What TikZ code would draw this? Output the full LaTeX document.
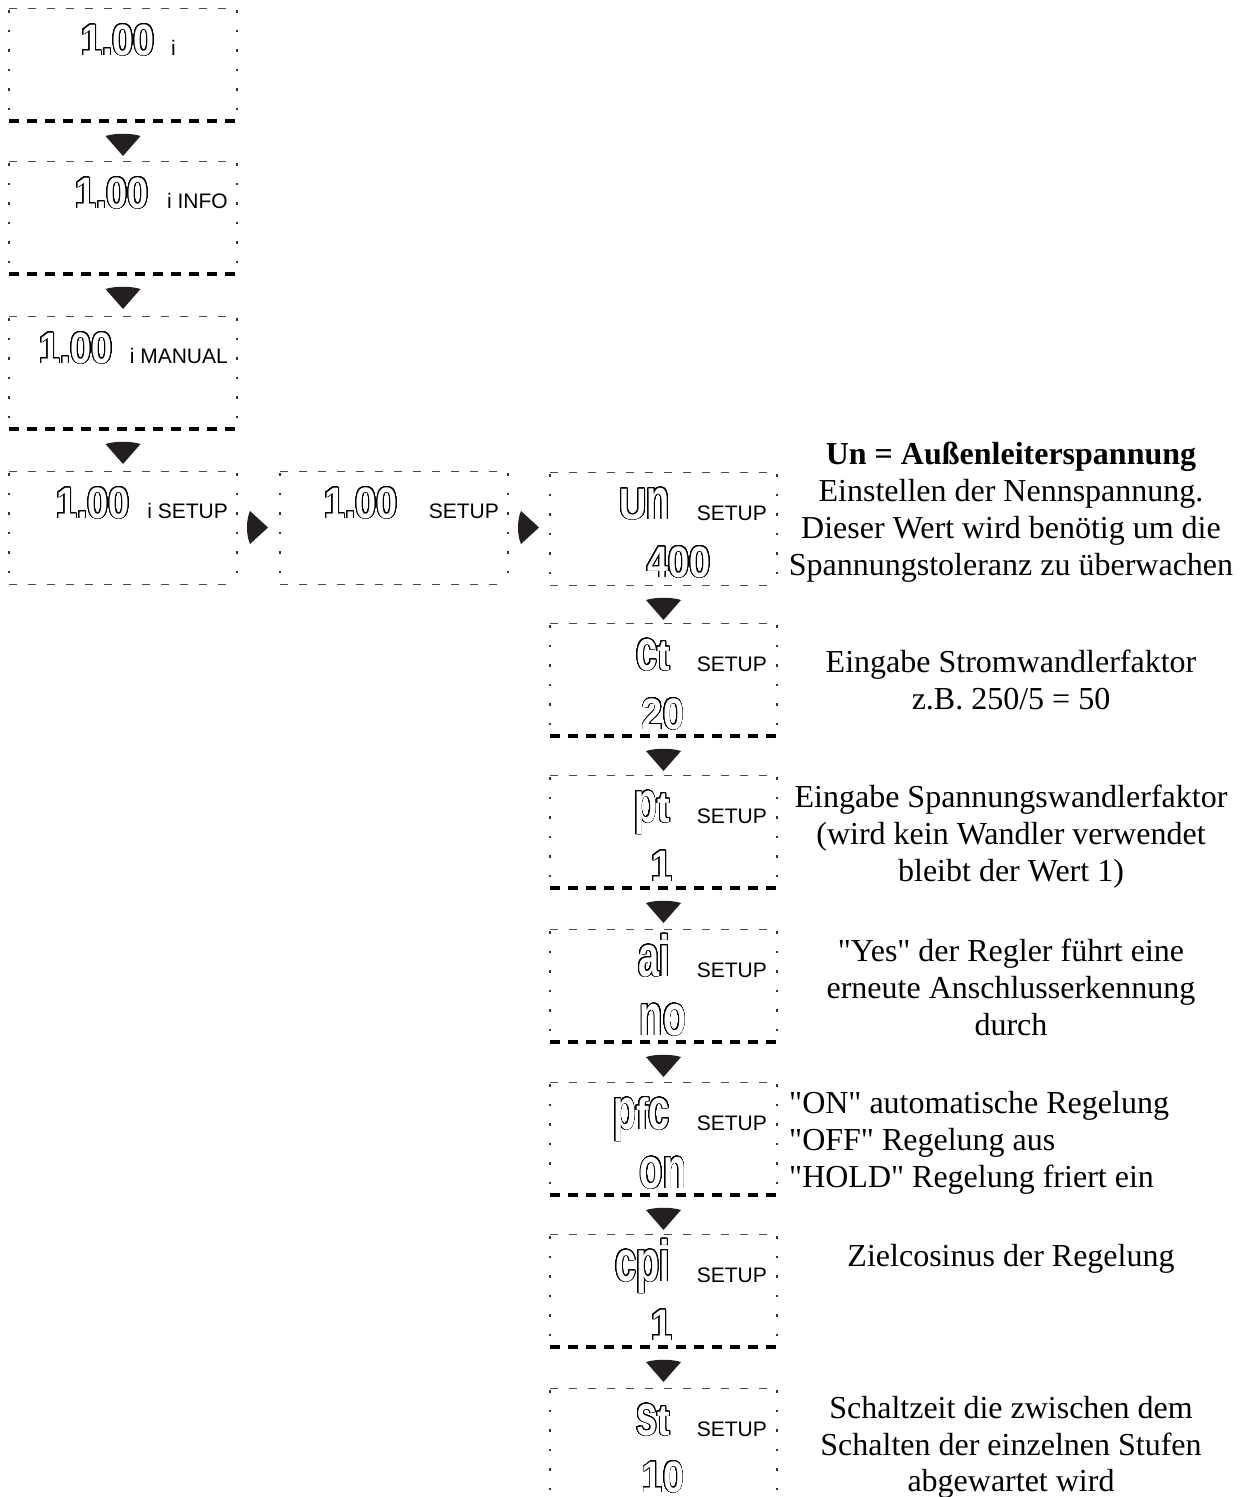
\documentclass[tikz,border=0pt]{standalone}
\usepackage{fontspec}
\setmainfont{Liberation Serif}
\newfontfamily\lcdfont[FakeStretch=0.86]{Liberation Sans Bold}
\newfontfamily\lblfont{Liberation Sans}
\usepackage{graphicx}
\usepackage{contour}
\contourlength{0.9pt}
\contournumber{32}
\usetikzlibrary{calc}
\definecolor{tricol}{RGB}{35,31,32}
\newcommand\dsp[1]{{\lcdfont\fontsize{44}{44}\selectfont\textcolor{white}{\contour{black}{#1}}}}
\newcommand\Xs[1]{\scalebox{1}[1.32]{#1}}
\newcommand\myframeX[2]{%
  \draw[topline] (#1.north west) -- (#1.north east);
  \draw[sideline] (#1.north west) -- (#1.south west);
  \draw[sideline] (#1.north east) -- (#1.south east);
  \draw[#2] (#1.south west) -- (#1.south east);}
\newcommand\mydtriX[1]{%
  \fill[tri] ($(#1)+(-17.5,1)$) .. controls ($(#1)+(-8,-2)$) and ($(#1)+(8,-2)$) .. ($(#1)+(17.5,1)$) -- ($(#1)+(0,21)$) -- cycle;}
\newcommand\myrtriX[1]{%
  \fill[tri] ($(#1)+(0,-16.5)$) -- ($(#1)+(18,0)$) -- ($(#1)+(0,16.5)$) .. controls ($(#1)+(-4,8)$) and ($(#1)+(-4,-8)$) .. cycle;}
\begin{document}
\begin{tikzpicture}[x=1pt,y=-1pt,
  box/.style={minimum width=228pt,minimum height=113pt,inner sep=0pt,outer sep=0pt,anchor=north west,draw=none},
  cbox/.style={box,minimum width=227pt},
  topline/.style={draw=black!70,line width=1pt,dash pattern=on 8pt off 11pt},
  thinline/.style={draw=black!70,line width=1pt,dash pattern=on 8pt off 11pt},
  sideline/.style={draw=black!80,line width=1.6pt,dash pattern=on 2.5pt off 17pt,dash phase=-2pt},
  thickline/.style={draw=black,line width=3.3pt,dash pattern=on 10pt off 8pt},
  tri/.style={fill=tricol},
  num/.style={inner sep=0pt,anchor=base east},
  lbl/.style={inner sep=0pt,anchor=base east,font=\lblfont\fontsize{21}{21}\selectfont},
  val/.style={inner sep=0pt,anchor=base},
  desc/.style={inner sep=0pt,anchor=base,font=\fontsize{32}{37}\selectfont},
  descl/.style={desc,anchor=base west}]
\fill[white] (0,0) rectangle (1243,1497);
\useasboundingbox (0,0) rectangle (1243,1497);

% left column
\node[box] (b1) at (9,8) {};
\node[box] (b2) at (9,161) {};
\node[box] (b3) at (9,316) {};
\node[box] (b4) at (9,471) {};
\node[box] (b5) at (280,471) {};
\myframeX{b1}{thickline}
\myframeX{b2}{thickline}
\myframeX{b3}{thickline}
\myframeX{b4}{thinline}
\myframeX{b5}{thinline}

\node[num] (b1n) at ($(b1.north west)+(146,47)$) {\dsp{1.00}};
\node[lbl,anchor=base west] (b1l) at ($(b1.north west)+(162,47)$) {i};
\node[num] (b2n) at ($(b2.north west)+(140,47)$) {\dsp{1.00}};
\node[lbl] (b2l) at ($(b2.north west)+(219,47)$) {i INFO};
\node[num] (b3n) at ($(b3.north west)+(104,47)$) {\dsp{1.00}};
\node[lbl] (b3l) at ($(b3.north west)+(219,47)$) {i MANUAL};
\node[num] (b4n) at ($(b4.north west)+(121,47)$) {\dsp{1.00}};
\node[lbl] (b4l) at ($(b4.north west)+(219,47)$) {i SETUP};
\node[num] (b5n) at ($(b5.north west)+(118,47)$) {\dsp{1.00}};
\node[lbl] (b5l) at ($(b5.north west)+(219,47)$) {SETUP};

\mydtriX{$(b1.south)+(0,14)$}
\mydtriX{$(b2.south)+(0,14)$}
\mydtriX{$(b3.south)+(0,14)$}
\myrtriX{$(b4.east)+(13,0)$}
\myrtriX{$(b5.east)+(13,0)$}

% right column
\node[cbox] (c1) at (550,472) {};
\node[cbox] (c2) at (550,623) {};
\node[cbox] (c3) at (550,775) {};
\node[cbox] (c4) at (550,929) {};
\node[cbox] (c5) at (550,1082) {};
\node[cbox] (c6) at (550,1234) {};
\node[cbox] (c7) at (550,1388) {};
\myframeX{c1}{thinline}
\myframeX{c2}{thickline}
\myframeX{c3}{thickline}
\myframeX{c4}{thickline}
\myframeX{c5}{thickline}
\myframeX{c6}{thickline}
\myframeX{c7}{thickline}
\foreach \a in {c1,c2,c3,c4,c5,c6}{\mydtriX{$(\a.south)+(0,14)$}}

\node[num] (c1n) at ($(c1.north west)+(120,47)$) {\dsp{U\Xs{n}}};
\node[num] (c2n) at ($(c2.north west)+(120,47)$) {\dsp{\Xs{c}t}};
\node[num] (c3n) at ($(c3.north west)+(120,47)$) {\dsp{\Xs{p}t}};
\node[num] (c4n) at ($(c4.north west)+(120,47)$) {\dsp{\Xs{a}\Xs{i}}};
\node[num] (c5n) at ($(c5.north west)+(120,47)$) {\dsp{\Xs{p}f\Xs{c}}};
\node[num] (c6n) at ($(c6.north west)+(120,47)$) {\dsp{\Xs{c}\Xs{p}\Xs{i}}};
\node[num] (c7n) at ($(c7.north west)+(120,47)$) {\dsp{\Xs{s}t}};
\foreach \a in {c1,c2,c3,c4,c5,c6,c7}{\node[lbl] (\a l) at ($(\a.north west)+(217,48)$) {SETUP};}
\node[val] (c1v) at ($(c1.north west)+(129,105)$) {\dsp{400}};
\node[val] (c2v) at ($(c2.north west)+(113,106)$) {\dsp{20}};
\node[val] (c3v) at ($(c3.north west)+(112,106)$) {\dsp{1}};
\node[val] (c4v) at ($(c4.north west)+(113,106)$) {\dsp{\Xs{no}}};
\node[val] (c5v) at ($(c5.north west)+(113,106)$) {\dsp{\Xs{on}}};
\node[val] (c6v) at ($(c6.north west)+(112,106)$) {\dsp{1}};
\node[val] (c7v) at ($(c7.north west)+(113,104)$) {\dsp{10}};

% descriptions
\node[desc,font=\bfseries\fontsize{32}{37}\selectfont] (d1a) at (1011,464) {Un = Außenleiterspannung};
\node[desc] (d1b) at (1011,501) {Einstellen der Nennspannung.};
\node[desc] (d1c) at (1011,538) {Dieser Wert wird benötig um die};
\node[desc] (d1d) at (1011,575) {Spannungstoleranz zu überwachen};
\node[desc] (d2a) at (1011,672) {Eingabe Stromwandlerfaktor};
\node[desc] (d2b) at (1011,709) {z.B. 250/5 = 50};
\node[desc] (d3a) at (1011,807) {Eingabe Spannungswandlerfaktor};
\node[desc] (d3b) at (1011,844) {(wird kein Wandler verwendet};
\node[desc] (d3c) at (1011,881) {bleibt der Wert 1)};
\node[desc] (d4a) at (1011,961) {\textquotedbl Yes\textquotedbl{} der Regler führt eine};
\node[desc] (d4b) at (1011,998) {erneute Anschlusserkennung};
\node[desc] (d4c) at (1011,1035) {durch};
\node[descl] (d5a) at (789,1113) {\textquotedbl ON\textquotedbl{} automatische Regelung};
\node[descl] (d5b) at (789,1150) {\textquotedbl OFF\textquotedbl{} Regelung aus};
\node[descl] (d5c) at (789,1187) {\textquotedbl HOLD\textquotedbl{} Regelung friert ein};
\node[desc] (d6a) at (1011,1266) {Zielcosinus der Regelung};
\node[desc] (d7a) at (1011,1418) {Schaltzeit die zwischen dem};
\node[desc] (d7b) at (1011,1455) {Schalten der einzelnen Stufen};
\node[desc] (d7c) at (1011,1491) {abgewartet wird};
\end{tikzpicture}
\end{document}
